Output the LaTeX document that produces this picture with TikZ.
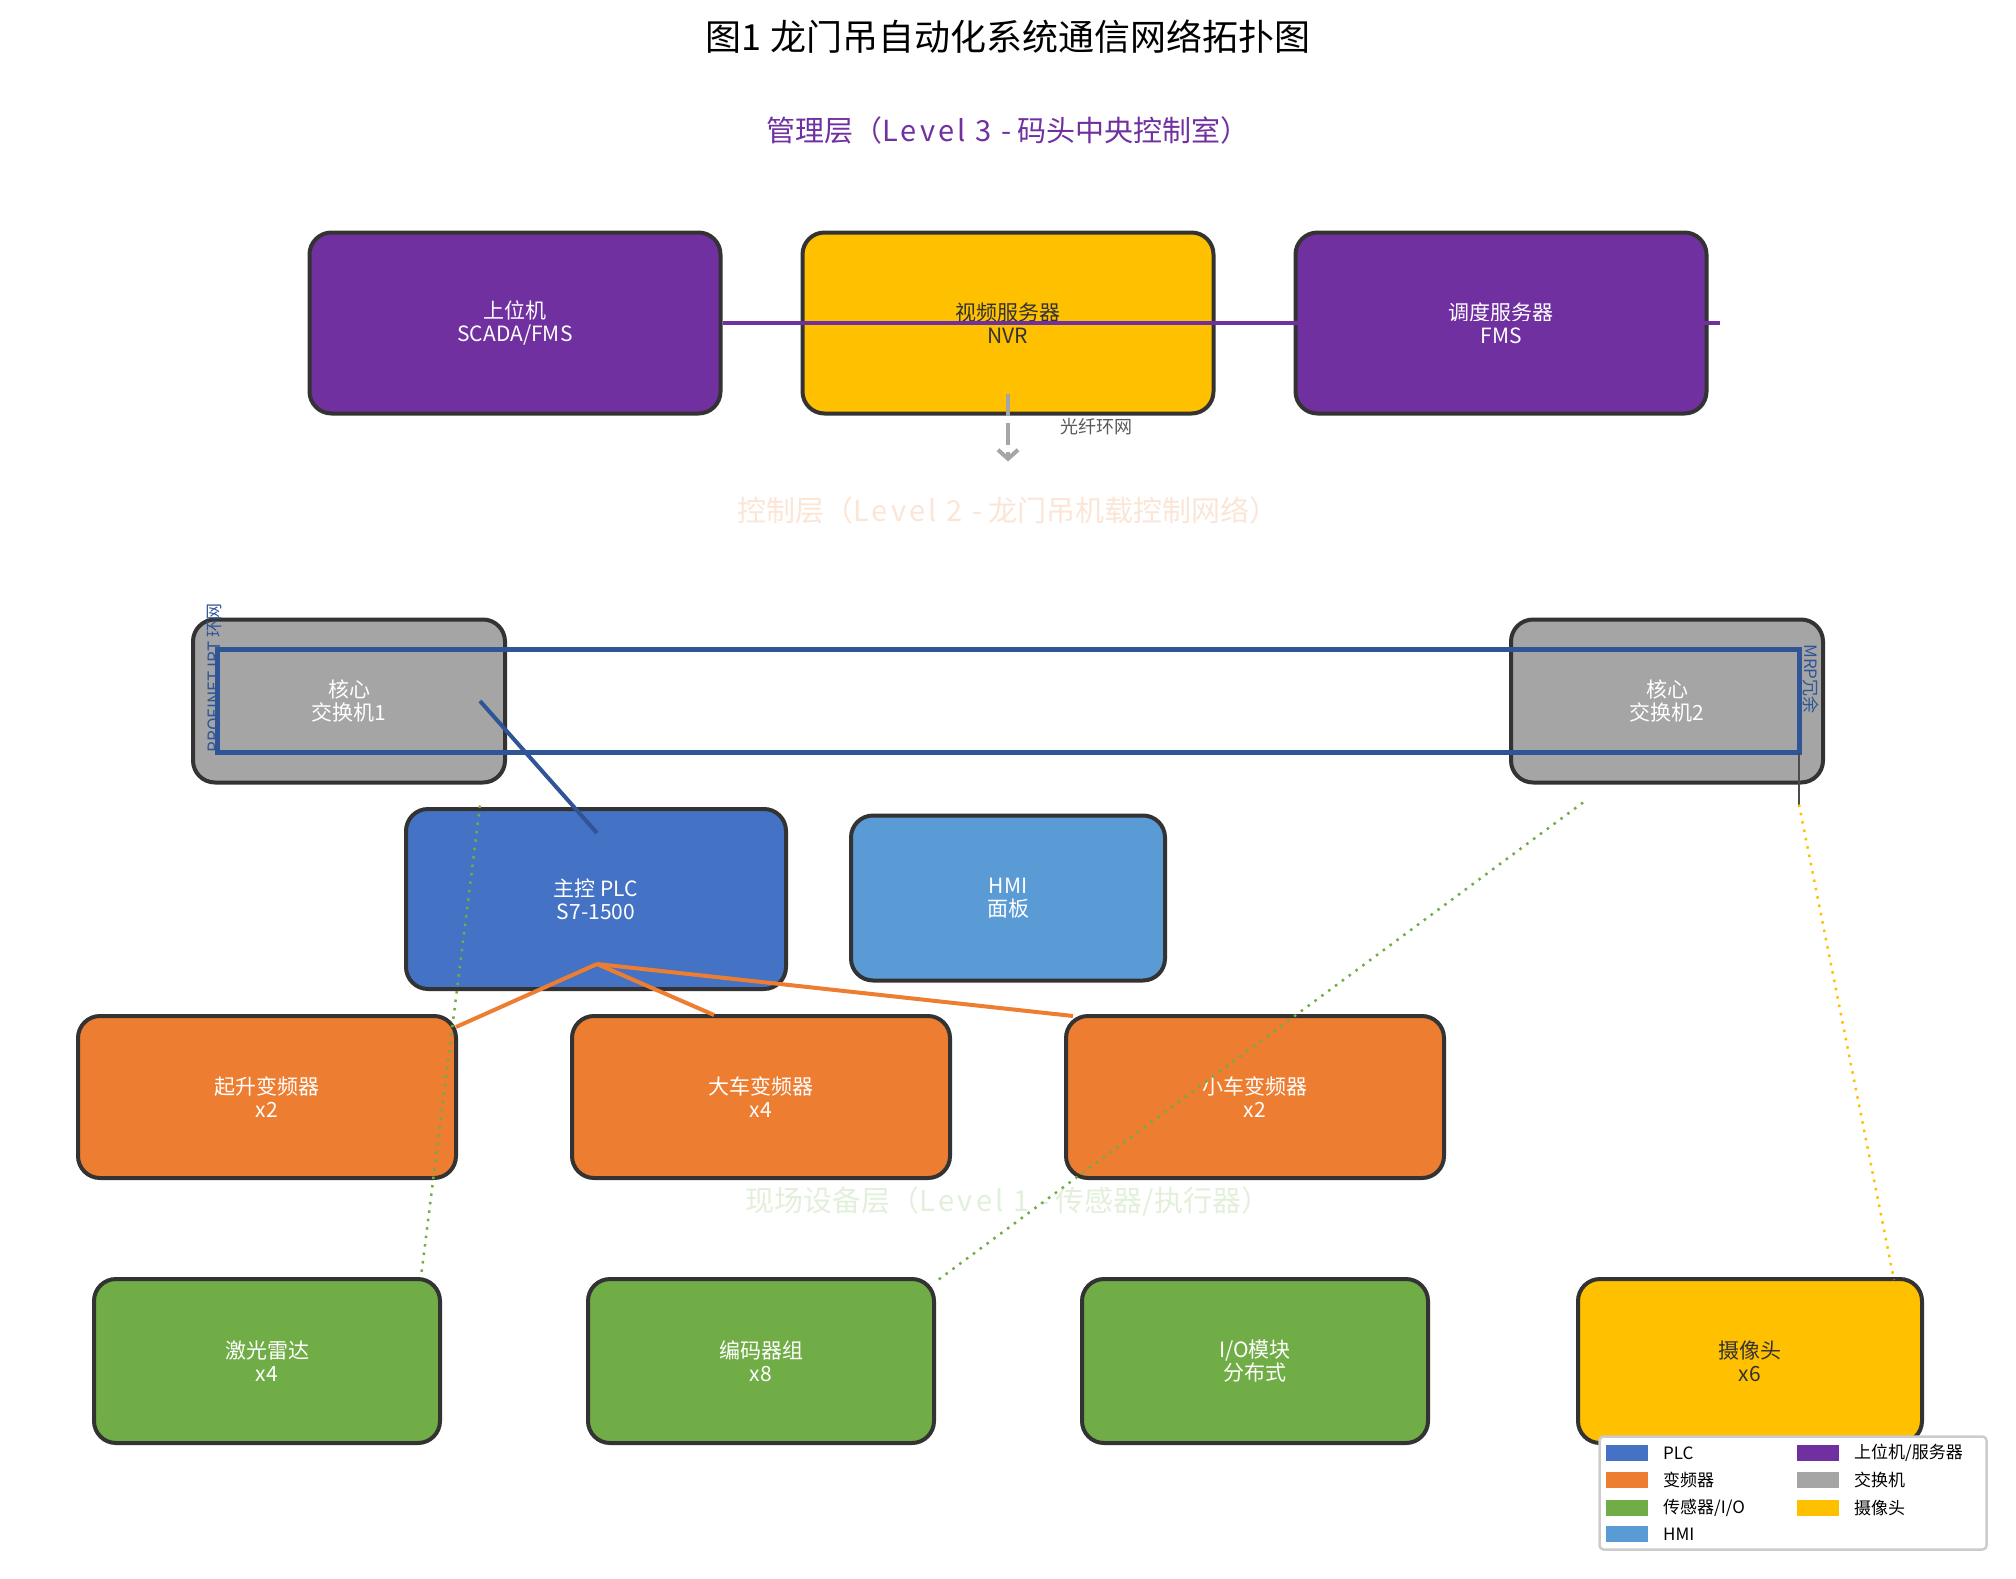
\documentclass[tikz,border=0pt]{standalone}
\usepackage{fontspec}
\setmainfont{Noto Sans CJK SC}
\usetikzlibrary{calc}
\usetikzlibrary{arrows.meta}

\definecolor{srvpurple}{HTML}{7030A0}
\definecolor{camyellow}{HTML}{FFC000}
\definecolor{swgray}{HTML}{A5A5A5}
\definecolor{plcblue}{HTML}{4472C4}
\definecolor{hmiblue}{HTML}{5B9BD5}
\definecolor{vfdorange}{HTML}{ED7D31}
\definecolor{iogreen}{HTML}{70AD47}
\definecolor{ringblue}{HTML}{2F5597}
\definecolor{edgegray}{HTML}{333333}

\newcommand{\widelat}[1]{{\addfontfeatures{LetterSpace=11}#1}}

\tikzset{
  dev/.style={draw=edgegray, line width=4pt, rounded corners=22pt, align=center,
    text=white, inner sep=0pt, font=\fontsize{21}{23}\selectfont},
  srv/.style={dev, fill=srvpurple, minimum width=411pt, minimum height=181pt},
  sw/.style={dev, fill=swgray, minimum width=312pt, minimum height=163pt},
  vfd/.style={dev, fill=vfdorange, minimum width=378pt, minimum height=162pt},
  sensor/.style={dev, fill=iogreen, minimum width=346pt, minimum height=164pt},
  layer/.style={font=\fontsize{29}{32}\selectfont},
  swatch/.style={minimum width=42pt, minimum height=16pt, inner sep=0pt},
  legtext/.style={anchor=west, inner sep=0pt, font=\fontsize{17}{19}\selectfont},
  dotlink/.style={line width=2.5pt, dash pattern=on 2.5pt off 6pt}
}

\begin{document}
\begin{tikzpicture}[x=1pt,y=-1pt]
\useasboundingbox (0,0) rectangle (2016,1579);

\node (title) at (1008,37) [font=\fontsize{36}{40}\selectfont] {图1\hspace{9pt}龙门吊自动化系统通信网络拓扑图};

% management level
\node (lvl3) at (1008,130) [layer, text=srvpurple] {管理层（\widelat{Level 3 -} 码头中央控制室）};
\node (scada) at (515,323) [srv] {上位机\\SCADA/FMS};
\node (nvr) at (1008,323) [srv, fill=camyellow, text=edgegray] {视频服务器\\NVR};
\node (fms) at (1501,323) [srv] {调度服务器\\FMS};
\draw [srvpurple, line width=4pt] (scada.east) -- ($(fms.east)+(11,0)$);
\draw [swgray, line width=4pt, dash pattern=on 22pt off 7pt, -{Straight Barb[length=9pt,width=20pt]}]
  ($(nvr.south)+(0,-22)$) -- ($(nvr.south)+(0,46)$);
\node (fiberlbl) at ($(nvr.south)+(88,11)$) [text=black!65, font=\fontsize{18}{20}\selectfont] {光纤环网};

% control level
\node (lvl2) at (1008,510) [layer, text=vfdorange!20] {控制层（\widelat{Level 2 -} 龙门吊机载控制网络）};
\node (sw1) at (349,701) [sw] {核心\\交换机1};
\node (sw2) at (1667,701) [sw] {核心\\交换机2};
\node (plc) at (596,899) [dev, fill=plcblue, minimum width=380pt, minimum height=180pt] {主控 PLC\\S7-1500};
\node (hmi) at (1008,898) [dev, fill=hmiblue, minimum width=314pt, minimum height=165pt] {HMI\\面板};
\node (hoist) at (267,1097) [vfd] {起升变频器\\x2};
\node (travel) at (761,1097) [vfd] {大车变频器\\x4};
\node (trolley) at (1255,1097) [vfd] {小车变频器\\x2};

\coordinate (ringNW) at ($(sw1.north west)+(26,32)$);
\coordinate (ringSE) at ($(sw2.south east)+(-26,-32)$);
\draw [ringblue, line width=5pt] (ringNW) rectangle (ringSE);
\node (irtlbl) at ($(sw1.west)+(24,-23)$) [rotate=90, text=ringblue, font=\fontsize{17}{19}\selectfont] {PROFINET IRT 环网};
\node (mrplbl) at ($(sw2.east)+(-14,-22)$) [rotate=-90, text=ringblue, font=\fontsize{17}{19}\selectfont] {MRP冗余};
\draw [ringblue, line width=4pt] ($(sw1)+(131,0)$) -- ($(plc)+(1,-66)$);

\coordinate (plcbus) at ($(plc)+(1,65)$);
\draw [vfdorange, line width=4pt] (plcbus) -- ($(hoist.north east)+(-2,13)$);
\draw [vfdorange, line width=4pt] (plcbus) -- ($(travel.north)+(-47,1)$);
\draw [vfdorange, line width=4pt] (plcbus) -- ($(trolley.north west)+(9,2)$);

% field level
\node (lvl1) at (1008,1202) [layer, text=iogreen!20] {现场设备层（\widelat{Level 1 -} 传感器/执行器）};
\node (lidar) at (267,1361) [sensor] {激光雷达\\x4};
\node (encoder) at (761,1361) [sensor] {编码器组\\x8};
\node (iomod) at (1255,1361) [sensor] {I/O模块\\分布式};
\node (camera) at (1750,1361) [dev, fill=camyellow, text=edgegray, minimum width=344pt, minimum height=164pt] {摄像头\\x6};

\draw [dotlink, iogreen] ($(sw1.south)+(131,21)$) -- ($(lidar.north east)+(-21,0)$);
\draw [dotlink, iogreen] ($(sw2.south west)+(74,18)$) -- ($(encoder.north east)+(2,3)$);
\coordinate (camtap) at ($(ringSE)+(0,52)$);
\draw [black!70, line width=2.5pt] (ringSE) -- (camtap);
\draw [dotlink, camyellow] (camtap) -- ($(camera.north east)+(-30,3)$);

% legend
\node (legend) at (1793,1493) [draw=black!20, line width=2.5pt, fill=white, rounded corners=4pt, minimum width=387pt, minimum height=113pt] {};
\node (legPLC) at (1627,1453) [swatch, fill=plcblue] {};
\node (legPLCt) at (1663,1453) [legtext] {PLC};
\node (legVFD) at (1627,1480) [swatch, fill=vfdorange] {};
\node (legVFDt) at (1663,1480) [legtext] {变频器};
\node (legIO) at (1627,1508) [swatch, fill=iogreen] {};
\node (legIOt) at (1663,1508) [legtext] {传感器/I/O};
\node (legHMI) at (1627,1534) [swatch, fill=hmiblue] {};
\node (legHMIt) at (1663,1534) [legtext] {HMI};
\node (legSRV) at (1818,1453) [swatch, fill=srvpurple] {};
\node (legSRVt) at (1854,1453) [legtext] {上位机/服务器};
\node (legSW) at (1818,1480) [swatch, fill=swgray] {};
\node (legSWt) at (1854,1480) [legtext] {交换机};
\node (legCAM) at (1818,1508) [swatch, fill=camyellow] {};
\node (legCAMt) at (1854,1508) [legtext] {摄像头};
\end{tikzpicture}
\end{document}
